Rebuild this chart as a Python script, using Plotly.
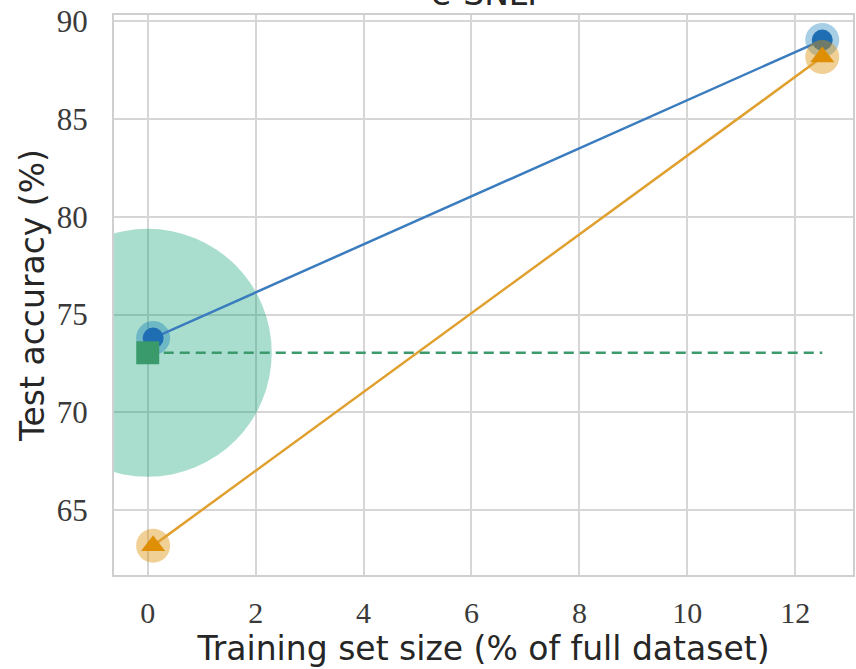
import plotly.graph_objects as go

# ---- data ----
blue_x = [0.1, 12.5]
blue_y = [73.8, 89.02]
orange_x = [0.1, 12.5]
orange_y = [63.2, 88.15]
green_x = [0.0, 12.5]
green_y = [73.05, 73.05]
green_blob_x = [0.0]
green_blob_y = [73.05]

x_ticks = [0, 2, 4, 6, 8, 10, 12]
y_ticks = [65, 70, 75, 80, 85, 90]
title_text = "e-SNLI"
x_title = "Training set size (% of full dataset)"
y_title = "Test accuracy (%)"

BLUE = "#1f6db3"
ORANGE = "#de8f05"
GREEN = "#3a9a6c"
SANS = "DejaVu Sans"

fig = go.Figure()

# big translucent green disc
fig.add_trace(go.Scatter(x=green_blob_x, y=green_blob_y, mode="markers",
                         marker=dict(size=248, color="rgba(2,158,115,0.34)", line=dict(width=0)),
                         showlegend=False, hoverinfo="skip"))

# blue halo + line
fig.add_trace(go.Scatter(x=blue_x, y=blue_y, mode="markers",
                         marker=dict(size=34, color="rgba(1,115,178,0.35)", line=dict(width=0)),
                         showlegend=False))
fig.add_trace(go.Scatter(x=blue_x, y=blue_y, mode="lines+markers",
                         line=dict(color="#3a7cbd", width=2.5),
                         marker=dict(size=21, color=BLUE, line=dict(width=0)),
                         showlegend=False))

# orange halo + line
fig.add_trace(go.Scatter(x=orange_x, y=orange_y, mode="markers",
                         marker=dict(size=34, color="rgba(222,143,5,0.42)", line=dict(width=0)),
                         showlegend=False))
fig.add_trace(go.Scatter(x=orange_x, y=orange_y, mode="lines+markers",
                         line=dict(color="#e0a030", width=2.5),
                         marker=dict(size=21, symbol="triangle-up", color=ORANGE, line=dict(width=0)),
                         showlegend=False))

# green dashed baseline with square marker at start
fig.add_trace(go.Scatter(x=green_x, y=green_y, mode="lines",
                         line=dict(color=GREEN, width=2.5, dash="10px,6px"),
                         showlegend=False))
fig.add_trace(go.Scatter(x=green_x[:1], y=green_y[:1], mode="markers",
                         marker=dict(size=23, symbol="square", color=GREEN, line=dict(width=0)),
                         showlegend=False))

fig.update_layout(
    width=856, height=669,
    margin=dict(l=114, r=1, t=15, b=94),
    paper_bgcolor="white", plot_bgcolor="white",
    annotations=[dict(text=title_text, xref="paper", yref="paper", x=0.5, y=1,
                      xanchor="center", yanchor="bottom", showarrow=False,
                      font=dict(family=SANS, size=33, color="#262626"))],
)

fig.update_xaxes(range=[-0.625, 13.07], tickvals=x_ticks, ticktext=[str(v) for v in x_ticks],
                 showgrid=True, gridcolor="#d6d6d6", gridwidth=1.5, zeroline=False,
                 showline=True, linecolor="#cfcfcf", linewidth=2, mirror=True,
                 ticks="", ticklabelstandoff=10,
                 tickfont=dict(family="Liberation Serif", size=30, color="#3a3a3a"),
                 title=dict(text=x_title, standoff=4,
                            font=dict(family=SANS, size=33, color="#262626")))
fig.update_yaxes(range=[61.7, 90.3], tickvals=y_ticks, ticktext=[str(v) for v in y_ticks],
                 showgrid=True, gridcolor="#d6d6d6", gridwidth=1.5, zeroline=False,
                 showline=True, linecolor="#cfcfcf", linewidth=2, mirror=True,
                 ticks="", ticklabelstandoff=18,
                 tickfont=dict(family="Liberation Serif", size=31, color="#3a3a3a"),
                 title=dict(text=y_title, standoff=2,
                            font=dict(family=SANS, size=33, color="#262626")))

fig.write_html("out.html")
